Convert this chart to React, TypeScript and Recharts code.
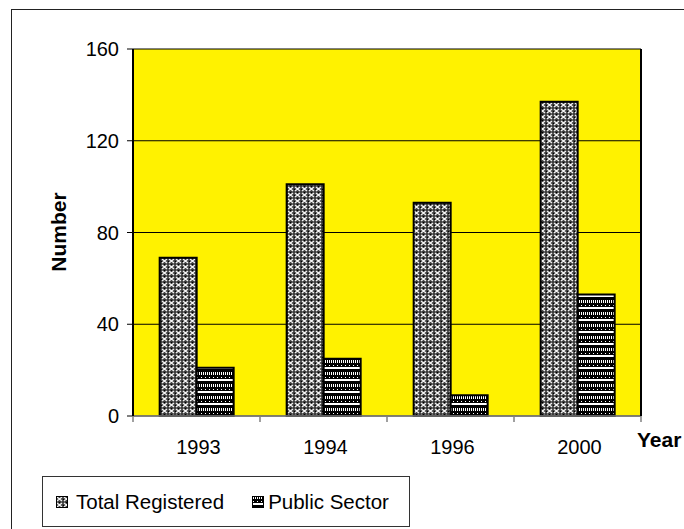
import React from 'react';
import { BarChart, Bar, XAxis, YAxis, CartesianGrid, Legend } from 'recharts';

const years = ['1993', '1994', '1996', '2000'];
const totalRegistered = [69, 101, 93, 137];
const publicSector = [21, 25, 9, 53];
const yTicks = [0, 40, 80, 120, 160];
const seriesNames = ['Total Registered', 'Public Sector'];

const data = years.map((year, i) => ({
  year,
  total: totalRegistered[i],
  public: publicSector[i],
}));

const font = '"Liberation Sans", Arial, sans-serif';

const LegendBox = () => (
  <div
    style={{
      boxSizing: 'border-box',
      width: 368,
      height: 51,
      border: '1px solid #333',
      display: 'flex',
      alignItems: 'center',
      paddingLeft: 13,
      fontFamily: font,
      fontSize: 20.5,
      color: '#000',
    }}
  >
    <svg width={12} height={12} style={{ marginRight: 8 }}>
      <rect x={0.5} y={0.5} width={11} height={11} fill="url(#patTotal)" stroke="#000" />
    </svg>
    <span>{seriesNames[0]}</span>
    <svg width={12} height={12} style={{ marginLeft: 28, marginRight: 4 }}>
      <rect x={0.5} y={0.5} width={11} height={11} fill="url(#patPublic)" stroke="#000" />
    </svg>
    <span>{seriesNames[1]}</span>
  </div>
);

// year label plus the small tick marks that sit between categories
const YearTick = (props: any) => {
  const { x, y, payload, index, visibleTicksCount } = props;
  const half = payload && payload.offset ? payload.offset : 63.5;
  const isLast = index === (visibleTicksCount ?? years.length) - 1;
  return (
    <g>
      <line x1={x - half} x2={x - half} y1={y} y2={y + 6} stroke="#808080" strokeWidth={1.5} />
      {isLast && (
        <line x1={x + half} x2={x + half} y1={y} y2={y + 6} stroke="#808080" strokeWidth={1.5} />
      )}
      <text
        x={x + 2}
        y={y + 24}
        dy="0.71em"
        textAnchor="middle"
        fontSize={20}
        fill="#000"
        fontFamily={font}
      >
        {payload.value}
      </text>
    </g>
  );
};

const App: React.FC = () => {
  return (
    <div
      style={{
        position: 'absolute',
        left: 0,
        top: 0,
        width: 684,
        height: 529,
        overflow: 'hidden',
        background: '#fff',
        fontFamily: font,
      }}
    >
      <div
        style={{
          position: 'absolute',
          left: 11,
          top: 9,
          width: 720,
          height: 600,
          border: '1.5px solid #222',
        }}
      />
      <div style={{ position: 'absolute', left: 0, top: 0 }}>
        <BarChart
          width={684}
          height={529}
          data={data}
          margin={{ top: 49, right: 42, left: 0, bottom: 112 }}
          barCategoryGap="21%"
          barGap={0}
        >
          <defs>
            <pattern id="patTotal" width={7} height={6} patternUnits="userSpaceOnUse">
              <rect width={7} height={6} fill="#3e3e3e" />
              <path d="M1 1 L3.5 3 L1 5 M6 1 L3.5 3 L6 5" stroke="#f4f4f4" strokeWidth={1.3} fill="none" />
              <rect x={3} y={0} width={1} height={1} fill="#000" />
              <rect x={0} y={3} width={1} height={1} fill="#000" />
            </pattern>
            <pattern id="patPublic" width={4} height={12} patternUnits="userSpaceOnUse">
              <rect width={4} height={12} fill="#fff" />
              <rect x={0} y={0} width={1} height={3} fill="#000" />
              <rect x={2} y={0} width={1} height={3} fill="#000" />
              <rect x={0} y={3} width={4} height={4} fill="#000" />
              <rect x={1} y={5} width={1} height={1} fill="#fff" />
              <rect x={0} y={9} width={4} height={3} fill="#000" />
            </pattern>
          </defs>
          <CartesianGrid vertical={false} stroke="#000" fill="#FFF200" fillOpacity={1} />
          <XAxis
            dataKey="year"
            height={1}
            interval={0}
            tickLine={false}
            tickSize={0}
            tickMargin={0}
            axisLine={{ stroke: '#808080', strokeWidth: 1.5 }}
            tick={<YearTick />}
            label={{
              content: () => (
                <text x={637} y={447} fontSize={21} fontWeight="bold" fill="#000" fontFamily={font}>
                  Year
                </text>
              ),
            }}
          />
          <YAxis
            width={133}
            domain={[0, 160]}
            ticks={yTicks}
            interval={0}
            axisLine={{ stroke: '#000', strokeWidth: 2 }}
            tickLine={{ stroke: '#000' }}
            tickSize={6}
            tickMargin={8}
            tick={{ fontSize: 20, fill: '#000', fontFamily: font }}
            label={{
              content: () => (
                <text
                  x={66}
                  y={232}
                  transform="rotate(-90, 66, 232)"
                  textAnchor="middle"
                  fontSize={21}
                  fontWeight="bold"
                  fill="#000"
                  fontFamily={font}
                >
                  Number
                </text>
              ),
            }}
          />
          <YAxis
            yAxisId="right"
            orientation="right"
            width={1}
            domain={[0, 160]}
            tick={false}
            tickLine={false}
            axisLine={{ stroke: '#000', strokeWidth: 2 }}
          />
          <Legend
            layout="horizontal"
            verticalAlign="middle"
            align="center"
            content={() => <LegendBox />}
            wrapperStyle={{ left: 42, top: 476, width: 368, height: 51 }}
          />
          <Bar
            dataKey="total"
            name={seriesNames[0]}
            fill="url(#patTotal)"
            stroke="#000"
            strokeWidth={2}
            isAnimationActive={false}
          />
          <Bar
            dataKey="public"
            name={seriesNames[1]}
            fill="url(#patPublic)"
            stroke="#000"
            strokeWidth={2}
            isAnimationActive={false}
          />
        </BarChart>
      </div>
    </div>
  );
};

export default App;
